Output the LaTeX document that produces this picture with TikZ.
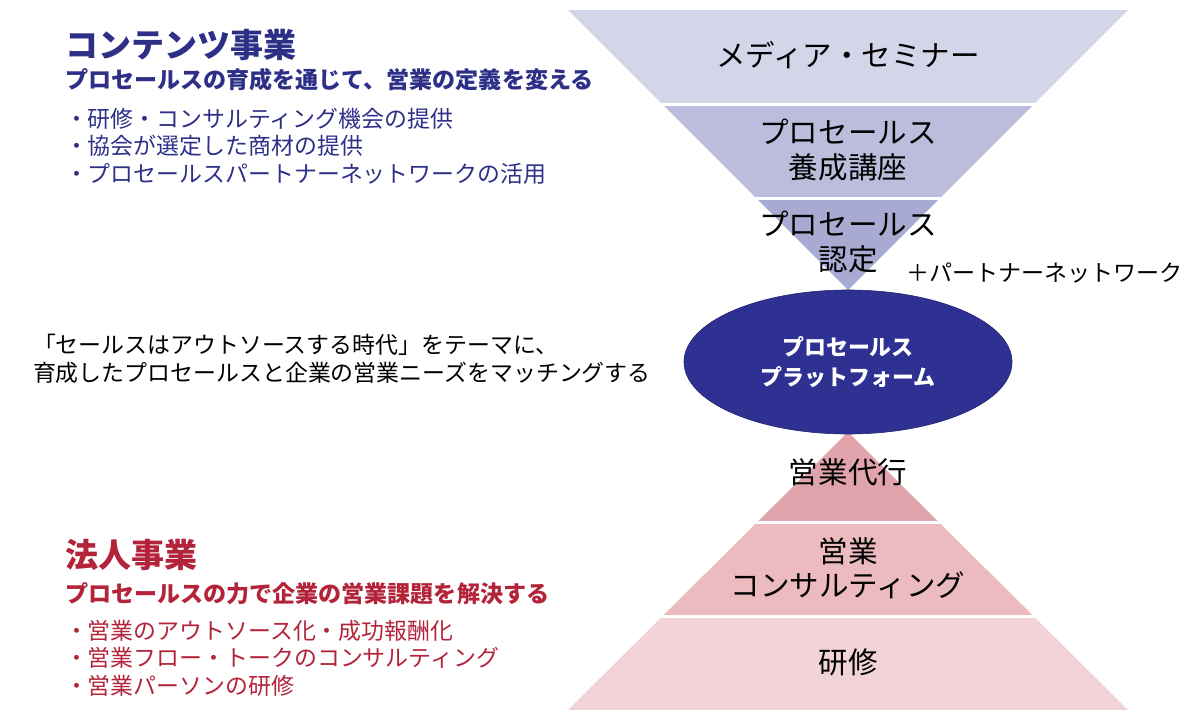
\documentclass[tikz,border=0pt]{standalone}
\usepackage{fontspec}
\setmainfont{Noto Sans CJK JP}
\usepackage{tikz}
\usetikzlibrary{shapes.geometric,positioning}
\definecolor{topA}{HTML}{D4D5E9}
\definecolor{topB}{HTML}{BCBDDC}
\definecolor{topC}{HTML}{A9AAD2}
\definecolor{botA}{HTML}{E2A4AC}
\definecolor{botB}{HTML}{EBBBC0}
\definecolor{botC}{HTML}{F2D3D7}
\definecolor{navy}{HTML}{2E3192}
\definecolor{navytext}{HTML}{2E3087}
\definecolor{redtext}{HTML}{B3243A}

\begin{document}
\begin{tikzpicture}[x=0.025cm,y=-0.025cm,
  every node/.style={inner sep=0pt, outer sep=0pt},
  bandtext/.style={align=center, font=\fontsize{21}{24.5}\selectfont},
  headtext/.style={anchor=west, font=\bfseries\fontsize{23.5}{28}\selectfont},
  leadtext/.style={anchor=west, font=\bfseries\fontsize{16.4}{20}\selectfont},
  listtext/.style={anchor=west, align=left, font=\fontsize{16.3}{19.6}\selectfont},
  ]
\useasboundingbox (0,0) rectangle (1200,722);
% upper funnel
\begin{scope}
\clip (568,10) -- (1128,10) -- (848,290) -- cycle;
\fill[topA] (560,10) rectangle (1140,103);
\fill[topB] (560,106) rectangle (1140,197);
\fill[topC] (560,200) rectangle (1140,290);
\end{scope}
% lower pyramid
\begin{scope}
\clip (848,432) -- (1128,710) -- (568,710) -- cycle;
\fill[botA] (560,432) rectangle (1140,521);
\fill[botB] (560,524) rectangle (1140,615);
\fill[botC] (560,618) rectangle (1140,710);
\end{scope}
\node[ellipse, fill=navy, draw=navy!75!black, minimum width=8.2cm, minimum height=3.6cm,
  text=white, align=center, font=\bfseries\fontsize{15.6}{21.3}\selectfont] (platform) at (848,362) {プロセールス\\プラットフォーム};
\node[bandtext] (band1) at (848,55) {メディア・セミナー};
\node[bandtext] (band2) at (848,150) {プロセールス\\養成講座};
\node[bandtext] (band3) at (848,242) {プロセールス\\認定};
\node[anchor=west, font=\fontsize{16.4}{20}\selectfont] (network) at (906,273) {＋パートナーネットワーク};
\node[bandtext] (band4) at (848,472) {営業代行};
\node[bandtext] (band5) at (848,568) {営業\\コンサルティング};
\node[bandtext] (band6) at (848,662) {研修};
% left column
\node[headtext, text=navytext] (content) at (65,45) {コンテンツ事業};
\node[leadtext, text=navytext] (contentlead) at (65,80) {プロセールスの育成を通じて、営業の定義を変える};
\node[listtext, text=navytext] (contentlist) at (65,146) {・研修・コンサルティング機会の提供\\・協会が選定した商材の提供\\・プロセールスパートナーネットワークの活用};
\node[listtext] (theme) at (33,359) {「セールスはアウトソースする時代」をテーマに、\\育成したプロセールスと企業の営業ニーズをマッチングする};
\node[headtext, text=redtext] (corporate) at (65,555) {法人事業};
\node[leadtext, text=redtext] (corporatelead) at (65,594) {プロセールスの力で企業の営業課題を解決する};
\node[listtext, text=redtext] (corporatelist) at (65,658) {・営業のアウトソース化・成功報酬化\\・営業フロー・トークのコンサルティング\\・営業パーソンの研修};
\end{tikzpicture}
\end{document}
